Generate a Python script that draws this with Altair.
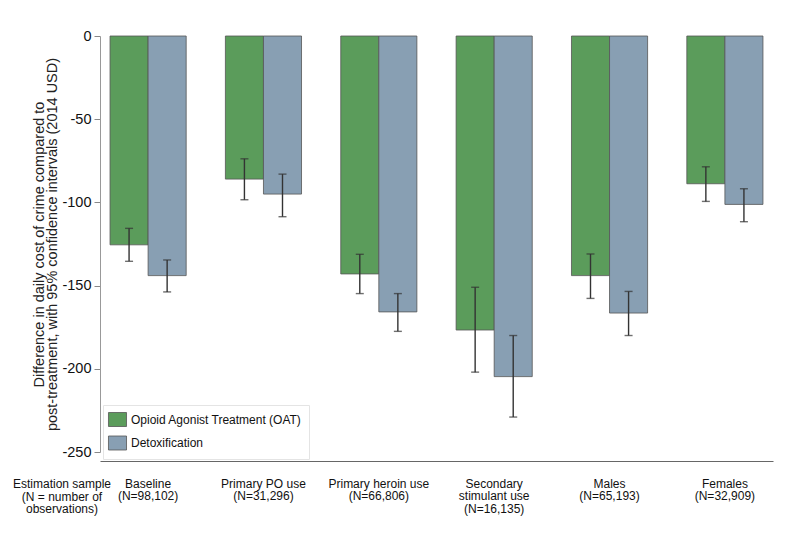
import altair as alt
import pandas as pd

categories = [
    "Baseline\n(N=98,102)",
    "Primary PO use\n(N=31,296)",
    "Primary heroin use\n(N=66,806)",
    "Secondary\nstimulant use\n(N=16,135)",
    "Males\n(N=65,193)",
    "Females\n(N=32,909)",
]
series = ["Opioid Agonist Treatment (OAT)", "Detoxification"]
colors = ["#5b9c5b", "#889fb3"]

oat_value = [-125.5, -86.0, -143.0, -176.7, -144.0, -88.8]
oat_lo = [-135.4, -98.4, -154.8, -202.0, -157.7, -99.4]
oat_hi = [-115.6, -73.8, -131.2, -151.0, -131.0, -78.6]
det_value = [-144.0, -95.0, -165.8, -204.7, -166.5, -101.2]
det_lo = [-153.8, -108.6, -177.5, -229.0, -180.0, -111.6]
det_hi = [-134.6, -83.0, -154.8, -180.0, -153.5, -91.8]

y_ticks = [0, -50, -100, -150, -200, -250]
y_title = ["Difference in daily cost of crime compared to",
           "post-treatment, with 95% confidence intervals (2014 USD)"]
side_note = "Estimation sample\n(N = number of\nobservations)"

rows = []
for i, c in enumerate(categories):
    rows.append(dict(cat=c, series=series[0], value=oat_value[i], lo=oat_lo[i], hi=oat_hi[i]))
    rows.append(dict(cat=c, series=series[1], value=det_value[i], lo=det_lo[i], hi=det_hi[i]))
df = pd.DataFrame(rows)

FONT = "Liberation Sans"

x_enc = alt.X(
    "cat:N", sort=categories,
    scale=alt.Scale(paddingInner=0.34, paddingOuter=0.087),
    axis=alt.Axis(
        title=None, labelAngle=0, ticks=False, domainColor="#666666", domainWidth=1.2,
        offset=9, labelPadding=17, labelFontSize=12, labelFont=FONT, labelColor="#111111",
        labelLineHeight=12.5, labelBaseline="top",
        labelExpr="split(datum.label, '\\n')",
    ),
)
xo_enc = alt.XOffset("series:N", sort=series, scale=alt.Scale(domain=series, paddingInner=0, paddingOuter=0))
y_scale = alt.Scale(domain=[-250, 0], nice=False)

bars = alt.Chart(df).mark_bar(stroke="#555555", strokeWidth=0.8).encode(
    x=x_enc,
    xOffset=xo_enc,
    y=alt.Y(
        "value:Q", scale=y_scale,
        axis=alt.Axis(
            values=y_ticks, grid=False, title=y_title, titleFont=FONT, titleFontSize=14.5,
            titleFontWeight="normal", titleColor="#222222", titlePadding=2, titleLineHeight=13,
            labelFont=FONT, labelFontSize=14.5, labelColor="#111111", labelPadding=3,
            labelExpr="toString(datum.value)",
            tickSize=6, tickColor="#888888", domainColor="#999999",
        ),
    ),
    color=alt.Color(
        "series:N", sort=series,
        scale=alt.Scale(domain=series, range=colors),
        legend=alt.Legend(
            title=None, orient="none", legendX=3, legendY=369,
            symbolType="M-1.29,-1H1.29V1H-1.29Z", symbolSize=196,
            symbolStrokeColor="#555555", symbolStrokeWidth=0.8, symbolOpacity=1,
            labelFont=FONT, labelFontSize=12, labelColor="#111111", labelOffset=6,
            labelLimit=0, rowPadding=4.5, padding=7, fillColor="white", strokeColor="#e4e4e4",
        ),
    ),
)

rules = alt.Chart(df).mark_rule(color="#333333", strokeWidth=1.4).encode(
    x=alt.X("cat:N", sort=categories),
    xOffset=xo_enc,
    y=alt.Y("lo:Q", scale=y_scale),
    y2="hi:Q",
)
caps_lo = alt.Chart(df).mark_tick(color="#333333", size=8, thickness=1.4).encode(
    x=alt.X("cat:N", sort=categories),
    xOffset=xo_enc,
    y=alt.Y("lo:Q", scale=y_scale),
)
caps_hi = alt.Chart(df).mark_tick(color="#333333", size=8, thickness=1.4).encode(
    x=alt.X("cat:N", sort=categories),
    xOffset=xo_enc,
    y=alt.Y("hi:Q", scale=y_scale),
)

note = alt.Chart(pd.DataFrame({"t": [side_note]})).mark_text(
    font=FONT, fontSize=12, color="#111111", align="center", baseline="top", lineHeight=12.5,
).encode(
    x=alt.value(-38), y=alt.value(443), text=alt.Text("t:N"),
).transform_calculate(t="split(datum.t, '\\n')")

chart = alt.layer(bars, rules, caps_lo, caps_hi, note).properties(
    width=673, height=416,
    background="white",
    autosize=alt.AutoSizeParams(type="none"),
    padding={"left": 92, "top": 28, "right": 19, "bottom": 90},
).configure_view(strokeWidth=0, stroke="transparent")

chart.save("out.html", embed_options={"renderer": "svg", "actions": False})
